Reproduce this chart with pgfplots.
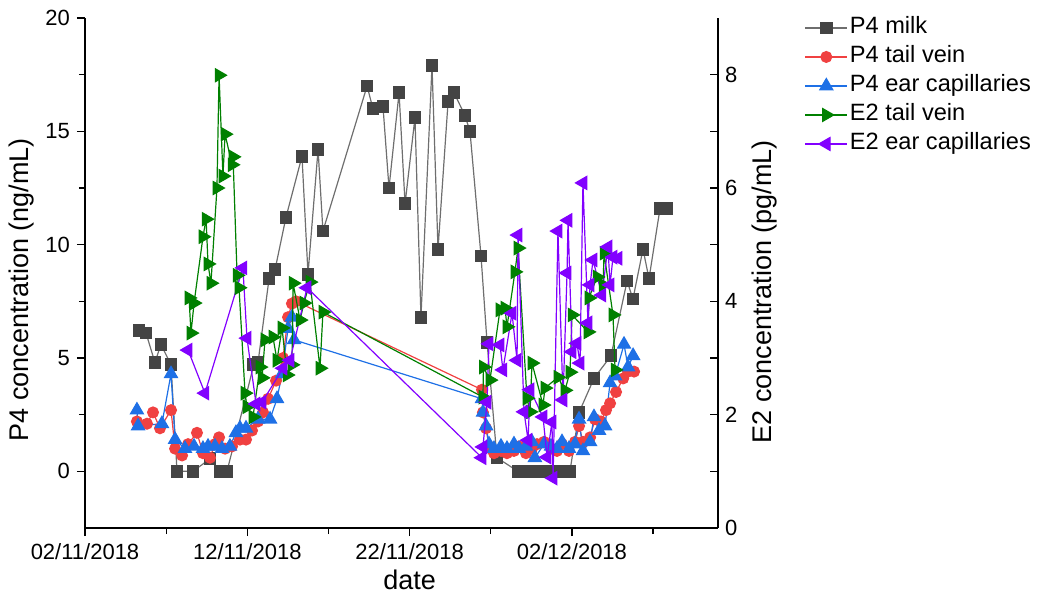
\documentclass[border=0pt]{standalone}
\usepackage{pgfplots}
\pgfplotsset{compat=1.18}
\usepackage{fontspec}
\setmainfont{Liberation Sans}
\definecolor{cgray}{RGB}{68,68,68}
\definecolor{cgrayl}{RGB}{110,110,110}
\definecolor{cred}{RGB}{240,65,65}
\definecolor{cblue}{RGB}{30,112,230}
\definecolor{cgreen}{RGB}{0,128,0}
\definecolor{cpurple}{RGB}{130,0,255}
\pgfplotsset{
  common/.style={scale only axis, width=316.5pt, height=255pt, xmin=0, xmax=39, clip=false,
    axis line style={black, line width=0.8pt}, tick style={black, line width=0.6pt},
    /pgf/number format/assume math mode=true,
    tick label style={font=\fontsize{11}{13}\selectfont},
    label style={font=\fontsize{13.5}{16}\selectfont},
    legend image code/.code={\draw[mark repeat=2,mark phase=2,##1] plot coordinates {(0pt,0pt) (10.5pt,0pt) (21pt,0pt)};}},
  smilk/.style={color=cgrayl, line width=0.6pt, mark=square*, mark size=2.9pt, mark options={fill=cgray, draw=cgray}},
  sred/.style={color=cred, line width=0.6pt, mark=*, mark size=2.7pt, mark options={fill=cred, draw=cred}},
  sblue/.style={color=cblue, line width=0.6pt, mark=triangle*, mark size=3.7pt, mark options={fill=cblue, draw=cblue}},
  sgreen/.style={color=cgreen, line width=0.6pt, mark=triangle*, mark size=3.7pt, mark options={fill=cgreen, draw=cgreen, rotate=-90}},
  spurple/.style={color=cpurple, line width=0.6pt, mark=triangle*, mark size=3.7pt, mark options={fill=cpurple, draw=cpurple, rotate=90}},
}
\begin{document}
\begin{tikzpicture}
\begin{axis}[common, name=ax,
  axis y line*=left, axis x line*=bottom,
  ymin=-2.5, ymax=20, ytick={0,5,10,15,20}, minor ytick={2.5,7.5,12.5,17.5},
  xtick={0,10,20,30}, minor xtick={5,15,25,35},
  xticklabels={02/11/2018,12/11/2018,22/11/2018,02/12/2018},
  tick align=outside, major tick length=4pt, minor tick length=3pt,
  xlabel={date}, ylabel={P4 concentration (ng/mL)},
  xlabel style={at={(axis description cs:0.513,-0.102)}, anchor=center},
  ylabel style={at={(axis description cs:-0.0995,0.467)}, anchor=center},
]
\addplot[smilk] coordinates {
(3.33,6.2) (3.76,6.1) (4.31,4.8) (4.68,5.6) (5.30,4.7) (5.67,0) (6.65,0) (7.70,0.55) (8.32,0) (8.75,0)
(10.40,4.7) (10.66,4.8) (11.34,8.5) (11.71,8.9) (12.38,11.2) (13.37,13.9) (13.74,8.7) (14.36,14.2) (14.66,10.6)
(17.38,17.0) (17.74,16.0) (18.36,16.1) (18.73,12.5) (19.35,16.7) (19.72,11.8) (20.33,15.6) (20.70,6.8)
(21.38,17.9) (21.75,9.8) (22.37,16.3) (22.74,16.7) (23.41,15.7) (23.72,15.0) (24.40,9.5) (24.77,5.7)
(25.38,0.6) (26.68,0) (27.23,0) (27.79,0) (28.34,0) (28.90,0) (29.45,0) (29.88,0)
(30.44,2.6) (31.36,4.1) (32.41,5.1) (33.40,8.4) (33.76,7.6) (34.38,9.8) (34.75,8.5) (35.43,11.6) (35.86,11.6)
};
\addplot[sred] coordinates {
(3.20,2.2) (3.82,2.1) (4.19,2.6) (4.62,1.9) (5.30,2.7) (5.55,1.0) (5.98,0.7) (6.35,1.2) (6.90,1.7) (7.27,0.8)
(7.70,0.6) (8.01,1.2) (8.26,1.5) (8.63,1.0) (9.06,1.1) (9.55,1.4) (9.92,1.4) (10.29,1.8) (10.66,2.2) (10.97,2.6)
(11.28,3.2) (11.77,4.0) (12.20,5.0) (12.51,6.8) (12.75,7.4) (13.00,7.5)
(24.46,3.6) (24.52,2.6) (24.71,1.9) (24.89,1.1) (25.20,0.8) (25.63,0.9) (26.00,0.8) (26.43,0.9) (26.74,1.1)
(27.17,0.8) (27.54,1.0) (27.85,1.2) (28.28,1.3) (28.71,1.0) (29.08,0.9) (29.39,1.2) (29.82,0.9) (30.19,1.3)
(30.44,2.0) (30.68,1.3) (31.12,1.5) (31.42,2.3) (31.79,2.2) (32.10,2.7) (32.35,3.0) (32.72,3.5) (33.16,4.1)
(33.46,4.4) (33.83,4.4)
};
\addplot[sblue] coordinates {
(3.20,2.7) (3.27,2.0) (4.74,2.1) (5.30,4.3) (5.55,1.4) (6.16,1.0) (6.72,1.1) (7.27,1.0) (7.58,1.1) (8.01,1.1)
(8.44,1.0) (8.93,1.1) (9.30,1.7) (9.55,1.9) (9.92,1.9) (10.66,2.3) (11.40,2.3) (11.83,3.2) (12.14,4.3)
(12.51,6.3) (12.75,6.8) (12.88,5.8)
(24.46,3.2) (24.52,2.6) (24.71,2.0) (24.89,1.2) (25.20,1.0) (25.63,1.1) (26.00,1.0) (26.43,1.2) (26.74,1.0)
(27.17,1.1) (27.54,1.3) (27.72,0.6) (28.28,1.2) (28.71,1.1) (29.08,1.0) (29.39,1.3) (29.82,1.0) (30.19,1.2)
(30.44,2.3) (30.68,0.9) (31.12,1.3) (31.36,2.4) (31.67,1.8) (32.04,2.0) (32.35,3.9) (32.66,4.2) (33.21,5.6)
(33.46,4.6) (33.77,5.1)
};
\end{axis}
\begin{axis}[common,
  axis y line*=right, axis x line=none,
  ymin=0, ymax=9, ytick={0,2,4,6,8}, minor ytick={1,3,5,7},
  tick align=inside, major tick length=4pt, minor tick length=4pt,
  ylabel={E2 concentration (pg/mL)},
  ylabel style={at={(axis description cs:1.074,0.463)}, anchor=center},
  legend style={at={(axis description cs:1.137,1.006)}, anchor=north west, draw=none, fill=none,
    font=\fontsize{11.8}{13}\selectfont, inner sep=0pt, outer sep=0pt,
    nodes={inner sep=1pt, text height=8.5pt, text depth=2.5pt}, row sep=1.5pt},
  legend cell align=left,
]
\addlegendimage{smilk}\addlegendentry{P4 milk}
\addlegendimage{sred}\addlegendentry{P4 tail vein}
\addlegendimage{sblue}\addlegendentry{P4 ear capillaries}
\addplot[sgreen] coordinates {
(6.41,4.06) (6.53,3.44) (6.72,3.97) (7.27,5.14) (7.46,5.45) (7.58,4.66) (7.76,4.32) (8.13,6.00) (8.26,7.99)
(8.50,6.21) (8.63,6.95) (9.06,6.41) (9.12,6.55) (9.37,4.46) (9.49,4.24) (9.86,2.38) (9.98,2.14) (10.35,1.96)
(10.78,2.84) (10.91,2.65) (11.09,3.32) (11.58,3.37) (11.83,2.96) (12.14,3.53) (12.45,2.70) (12.75,2.88)
(12.82,4.32) (13.25,3.67) (13.49,3.97) (13.86,4.34) (14.48,2.82) (14.66,3.81)
(24.52,2.31) (24.55,2.84) (24.95,2.61) (25.57,3.85) (25.88,3.88) (26.00,3.55) (26.49,4.52) (26.68,4.94)
(27.23,2.29) (27.42,2.05) (27.54,2.91) (28.22,2.17) (28.34,2.47) (29.14,2.66) (29.57,2.43) (29.88,2.75)
(30.01,3.76) (30.99,3.46) (31.05,4.06) (31.55,4.43) (31.92,4.29) (31.98,4.85) (32.53,3.76) (32.66,2.79)
};
\addlegendentry{E2 tail vein}
\addplot[spurple] coordinates {
(6.35,3.14) (7.39,2.38) (9.73,4.59) (9.98,3.35) (10.54,2.19) (10.91,2.22) (12.20,2.82) (12.63,2.96) (13.68,4.24)
(24.46,1.24) (24.52,1.43) (24.77,2.22) (24.89,3.25) (25.57,3.23) (25.75,2.79) (26.31,3.79) (26.62,2.96)
(26.68,5.17) (27.05,2.05) (27.30,1.55) (27.42,2.44) (28.22,1.96) (28.47,1.25) (28.77,1.87) (28.84,0.88)
(29.14,5.24) (29.45,2.26) (29.70,4.50) (29.76,5.43) (30.01,3.11) (30.31,3.26) (30.50,2.91) (30.68,6.09)
(30.99,3.62) (31.12,4.29) (31.30,4.73) (31.85,4.11) (32.22,4.96) (32.35,4.29) (32.53,4.78) (32.84,4.76)
};
\addlegendentry{E2 ear capillaries}
\end{axis}
\path (ax.south west) ++(-42.5pt,-32.5pt) rectangle ++(520pt,296.5pt);
\end{tikzpicture}
\end{document}
